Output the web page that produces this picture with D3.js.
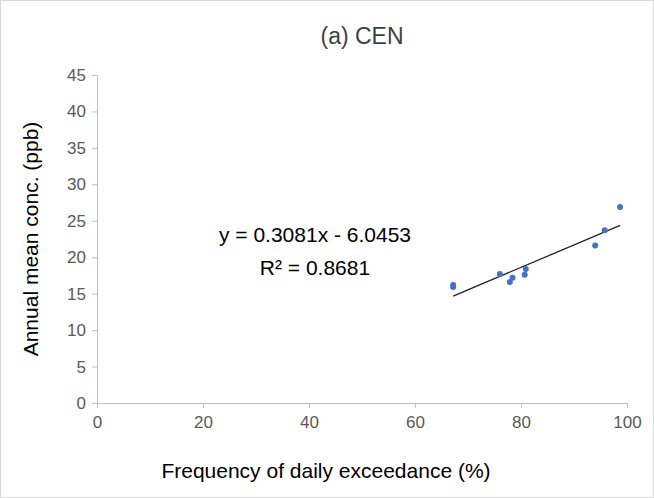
<!DOCTYPE html>
<html><head><meta charset="utf-8">
<script src="https://cdn.jsdelivr.net/npm/d3@7"></script>
<style>body{margin:0;background:#fff}text{font-family:Arial,"Liberation Sans",sans-serif}</style>
</head><body>
<svg id="chart" width="654" height="498"></svg>
<script>
// Values
var xValues = [67.2, 67.2, 76.0, 78.4, 77.9, 80.9, 80.7, 94.0, 95.8, 98.7];
var yValues = [16.2, 15.9, 17.7, 17.2, 16.6, 18.4, 17.6, 21.6, 23.7, 26.9];
var xTicks = [0, 20, 40, 60, 80, 100];
var yTicks = [0, 5, 10, 15, 20, 25, 30, 35, 40, 45];
var slope = 0.3081, intercept = -6.0453;

var svg = d3.select("#chart");
svg.append("rect").attr("x", 0.5).attr("y", 0.5).attr("width", 653).attr("height", 497)
    .style("fill", "#fff").style("stroke", "#d9d9d9");

var x = d3.scaleLinear().domain([0, 100]).range([97, 627]);
var y = d3.scaleLinear().domain([0, 45]).range([403, 75]);

var xAxis = svg.append("g").attr("transform", "translate(0,403)")
    .call(d3.axisBottom(x).tickValues(xTicks).tickSize(5).tickPadding(8));
var yAxis = svg.append("g").attr("transform", "translate(97,0)")
    .call(d3.axisLeft(y).tickValues(yTicks).tickSize(5).tickPadding(6));
[xAxis, yAxis].forEach(function (a) {
    a.selectAll("path,line").style("stroke", "#bfbfbf");
    a.selectAll("text").style("font-size", "17px").style("fill", "#595959");
});

// trend line
var tx = [d3.min(xValues), d3.max(xValues)];
svg.append("line")
    .attr("x1", x(tx[0])).attr("y1", y(slope * tx[0] + intercept))
    .attr("x2", x(tx[1])).attr("y2", y(slope * tx[1] + intercept))
    .style("stroke", "#222").style("stroke-width", 1.3);

svg.selectAll("circle.pt").data(xValues).enter().append("circle")
    .attr("class", "pt")
    .attr("cx", function (d) { return x(d); })
    .attr("cy", function (d, i) { return y(yValues[i]); })
    .attr("r", 3).style("fill", "#4472c4");

svg.append("text").attr("x", 362).attr("y", 44).attr("text-anchor", "middle")
    .style("font-size", "23px").style("fill", "#404040").text("(a) CEN");
svg.append("text").attr("x", 315).attr("y", 242).attr("text-anchor", "middle")
    .style("font-size", "21px").style("fill", "#000").text("y = 0.3081x - 6.0453");
svg.append("text").attr("x", 315).attr("y", 275).attr("text-anchor", "middle")
    .style("font-size", "21px").style("fill", "#000").text("R² = 0.8681");
svg.append("text").attr("x", 326).attr("y", 478).attr("text-anchor", "middle")
    .style("font-size", "21px").style("fill", "#000").text("Frequency of daily exceedance (%)");
svg.append("text").attr("transform", "translate(38,239) rotate(-90)").attr("text-anchor", "middle")
    .style("font-size", "21px").style("fill", "#000").text("Annual mean conc. (ppb)");
</script>
</body></html>
